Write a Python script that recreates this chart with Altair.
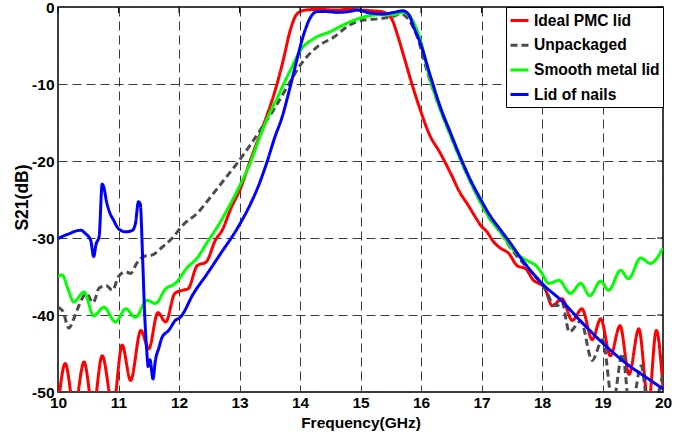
import altair as alt
import pandas as pd

series_names = ["Ideal PMC lid", "Unpackaged", "Smooth metal lid", "Lid of nails"]
series_colors = ["#ff0000", "#4d4d4d", "#00ff00", "#0000ff"]
series_dash = [[1, 0], [7, 4], [1, 0], [1, 0]]

red_freq = [10.0, 10.12, 10.27, 10.43, 10.58, 10.73, 10.91, 11.06, 11.2, 11.37, 11.5, 11.65, 11.78,
            11.93, 12.05, 12.15, 12.3, 12.45, 12.6, 12.72, 12.85, 13.02, 13.18, 13.35, 13.51, 13.62,
            13.72, 13.84, 13.95, 14.09, 14.3, 14.6, 14.8, 15.0, 15.2, 15.35, 15.44, 15.52, 15.61,
            15.72, 15.85, 15.99, 16.13, 16.32, 16.49, 16.65, 16.76, 16.9, 16.98, 17.09, 17.2, 17.31,
            17.45, 17.59, 17.73, 17.86, 17.95, 18.04, 18.17, 18.33, 18.5, 18.66, 18.83, 18.97, 19.13,
            19.29, 19.44, 19.6, 19.76, 19.89, 20.0]
red_db = [-52, -46.3, -52.2, -46.1, -52.2, -45.3, -52, -43.9, -48.5, -42.0, -44.4, -39.7, -40.9,
          -37.2, -36.8, -36.6, -33.6, -33.1, -30.3, -28.9, -26.3, -23.5, -19.9, -16.3, -12.8, -10.0,
          -7.0, -3.0, -0.9, -0.4, -0.3, -0.4, -0.3, -0.4, -0.5, -0.6, -0.9, -1.6, -3.6,
          -6.5, -10.0, -13.4, -16.4, -19.0, -21.6, -24.2, -25.5, -27.3, -28.3, -29.2, -30.5, -31.3,
          -32.0, -33.6, -34.0, -35.5, -35.9, -36.4, -38.8, -37.9, -40.7, -39.2, -43.2, -40.5, -45.3,
          -41.4, -47.7, -41.8, -51.5, -42.0, -49.5]

gray_freq = [10.0, 10.08, 10.18, 10.26, 10.35, 10.47, 10.58, 10.68, 10.8, 10.9, 11.0, 11.12, 11.2,
             11.3, 11.42, 11.56, 11.72, 11.89, 12.08, 12.3, 12.52, 12.74, 12.96, 13.18, 13.4, 13.6,
             13.8, 14.0, 14.28, 14.56, 14.83, 15.05, 15.33, 15.55, 15.66, 15.77, 15.94, 16.1, 16.3,
             16.47, 16.63, 16.8, 16.96, 17.13, 17.31, 17.51, 17.66, 17.81, 17.92, 18.0, 18.09, 18.17,
             18.25, 18.33, 18.45, 18.64, 18.83, 19.0, 19.17, 19.33, 19.46, 19.64, 19.77, 20.0]
gray_db = [-39.0, -39.5, -41.7, -40.5, -38.7, -37.2, -38.4, -36.5, -36.2, -36.8, -35.0, -34.4, -34.6,
           -33.3, -32.4, -32.2, -31.2, -30.0, -28.2, -26.8, -24.7, -22.5, -20.3, -17.9, -15.3, -12.9,
           -10.2, -7.6, -5.2, -3.9, -2.3, -1.7, -1.5, -1.2, -0.9, -1.4, -3.9, -8.3, -12.9,
           -16.3, -19.4, -22.4, -25.0, -27.4, -29.2, -31.6, -33.0, -34.3, -35.3, -36.0, -37.2, -38.5,
           -38.8, -38.3, -42.2, -40.8, -45.9, -43.2, -51.5, -45.0, -53.0, -46.6, -53.0, -47.6]

green_freq = [10.0, 10.07, 10.16, 10.26, 10.43, 10.59, 10.76, 10.95, 11.12, 11.28, 11.47, 11.61, 11.78,
              11.94, 12.14, 12.3, 12.47, 12.63, 12.8, 12.96, 13.18, 13.35, 13.51, 13.62, 13.73, 13.86,
              14.01, 14.23, 14.5, 14.78, 15.05, 15.33, 15.55, 15.7, 15.85, 15.99, 16.13, 16.3, 16.47,
              16.63, 16.8, 16.96, 17.13, 17.31, 17.51, 17.64, 17.77, 17.9, 18.0, 18.11, 18.28, 18.47,
              18.64, 18.79, 18.97, 19.1, 19.3, 19.43, 19.63, 19.79, 20.0]
green_db = [-35.0, -34.8, -36.5, -38.3, -37.0, -40.1, -39.0, -40.9, -39.2, -40.3, -38.1, -38.5, -36.6,
            -35.9, -33.8, -32.6, -30.5, -28.6, -26.3, -23.9, -20.2, -16.6, -13.6, -11.9, -10.0, -7.9,
            -5.6, -4.1, -3.2, -2.1, -1.3, -1.0, -1.0, -0.7, -1.6, -4.3, -8.8, -12.9, -16.3,
            -19.4, -22.4, -25.0, -27.4, -29.2, -31.4, -32.4, -33.0, -33.6, -34.6, -35.9, -35.5, -37.2,
            -35.9, -37.5, -35.6, -36.8, -34.2, -35.3, -32.6, -33.3, -31.3]

blue_freq = [10.0, 10.1, 10.2, 10.29, 10.38, 10.45, 10.54, 10.59, 10.63, 10.68, 10.73, 10.76, 10.8,
             10.85, 10.92, 11.0, 11.12, 11.23, 11.28, 11.33, 11.36, 11.4, 11.43, 11.47, 11.49, 11.52,
             11.57, 11.61, 11.67, 11.72, 11.83, 11.94, 12.02, 12.24, 12.47, 12.69, 12.96, 13.18, 13.3,
             13.46, 13.58, 13.7, 13.84, 13.95, 14.06, 14.17, 14.28, 14.45, 14.61, 14.8, 14.95, 15.17,
             15.38, 15.55, 15.7, 15.8, 15.88, 15.99, 16.16, 16.32, 16.49, 16.65, 16.82, 16.98, 17.15,
             17.31, 17.48, 17.64, 17.82, 18.0, 18.33, 18.64, 18.97, 19.41, 19.74, 20.0]
blue_db = [-30.1, -29.7, -29.4, -29.1, -29.0, -29.4, -30.3, -32.4, -30.8, -29.8, -23.0, -23.5, -25.2,
           -26.6, -27.7, -28.8, -29.2, -29.0, -28.1, -25.3, -25.6, -32.9, -39.4, -45.0, -46.7, -45.8,
           -48.3, -45.9, -44.2, -42.9, -42.0, -40.7, -40.3, -37.2, -34.6, -32.0, -28.8, -25.6, -23.5,
           -20.0, -17.0, -14.4, -10.3, -6.8, -3.6, -1.4, -0.6, -0.6, -0.7, -0.6, -0.4, -0.8,
           -0.9, -0.7, -0.5, -1.0, -2.6, -4.7, -9.1, -13.0, -16.4, -19.5, -22.5, -24.9, -27.2,
           -28.9, -30.7, -32.5, -34.3, -35.9, -38.2, -40.8, -43.4, -46.4, -48.2, -49.6]

x_ticks = [10, 11, 12, 13, 14, 15, 16, 17, 18, 19, 20]
y_ticks = [-50, -40, -30, -20, -10, 0]

rows = []
for name, fs, vs in zip(series_names,
                        [red_freq, gray_freq, green_freq, blue_freq],
                        [red_db, gray_db, green_db, blue_db]):
    for i, (f, v) in enumerate(zip(fs, vs)):
        rows.append({"series": name, "freq": f, "db": v, "idx": i})
df = pd.DataFrame(rows)

FONT = "Liberation Sans"
W, H = 605, 385

x_scale = alt.Scale(domain=[10, 20], nice=False, zero=False)
y_scale = alt.Scale(domain=[-50, 0], nice=False, zero=False)
x_axis = alt.Axis(values=x_ticks, title="Frequency(GHz)", labelExpr="'' + datum.value",
                  labelFlush=False, titleFontSize=15.5, labelPadding=3,
                  titleX=W / 2, titleY=35, titleBaseline="alphabetic", titleAlign="center")
y_axis = alt.Axis(values=y_ticks, title="S21(dB)", labelExpr="'' + datum.value",
                  labelFlush=False, titleFontSize=17.5, labelPadding=4,
                  titleX=-36, titleY=190, titleBaseline="middle", titleAlign="center")

leg = alt.Legend(
    title=None, orient="top-right", offset=0, padding=3,
    fillColor="white", strokeColor="black",
    symbolType="stroke", symbolSize=324, symbolStrokeWidth=3,
    labelFont=FONT, labelFontWeight="bold", labelFontSize=15.6, labelColor="black",
    labelOffset=4, rowPadding=4.7, labelLimit=0,
)

lines = alt.Chart(df).mark_line(strokeWidth=3, clip=True, interpolate="monotone").encode(
    x=alt.X("freq:Q", scale=x_scale, axis=x_axis),
    y=alt.Y("db:Q", scale=y_scale, axis=y_axis),
    color=alt.Color("series:N", scale=alt.Scale(domain=series_names, range=series_colors),
                    sort=series_names, legend=leg),
    strokeDash=alt.StrokeDash("series:N", scale=alt.Scale(domain=series_names, range=series_dash),
                              sort=series_names, legend=leg),
    order=alt.Order("idx:Q"),
)

ydf = pd.DataFrame({"db": y_ticks})
xdf = pd.DataFrame({"freq": x_ticks})

right_ticks = alt.Chart(ydf).mark_rule(color="black", strokeWidth=1).encode(
    y=alt.Y("db:Q", scale=y_scale, axis=y_axis), x=alt.value(W - 6), x2=alt.value(W))
top_ticks = alt.Chart(xdf).mark_rule(color="black", strokeWidth=1).encode(
    x=alt.X("freq:Q", scale=x_scale, axis=x_axis), y=alt.value(0), y2=alt.value(6))

chart = alt.layer(lines, right_ticks, top_ticks).properties(
    width=W, height=H,
    autosize=alt.AutoSizeParams(type="none"),
    padding={"left": 58, "top": 7, "right": 31, "bottom": 44},
    background="white",
).configure_view(
    stroke="black", strokeWidth=1.5
).configure_legend(
    strokeWidth=1
).configure_axis(
    domain=False, ticks=False, tickSize=0,
    grid=True, gridColor="#3a3a3a", gridDash=[9, 5], gridWidth=1, gridOpacity=1,
    labelFont=FONT, labelFontWeight="bold", labelFontSize=15.5, labelColor="black",
    titleFont=FONT, titleFontWeight="bold", titleColor="black",
)

chart.save("out.html", embed_options={"renderer": "svg", "actions": False})
